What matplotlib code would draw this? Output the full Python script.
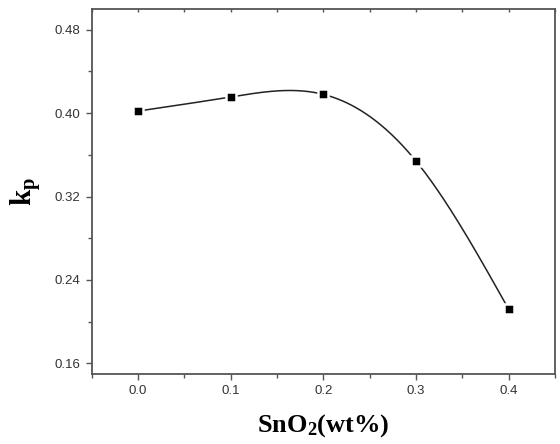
import numpy as np
import matplotlib
matplotlib.use("Agg")
import matplotlib.pyplot as plt

plt.rcParams["mathtext.fontset"] = "custom"
plt.rcParams["mathtext.rm"] = "Liberation Serif:bold"
plt.rcParams["mathtext.it"] = "Liberation Serif:bold"
plt.rcParams["mathtext.bf"] = "Liberation Serif:bold"

sno2 = [0.0, 0.1, 0.2, 0.3, 0.4]
kp = [0.402, 0.4155, 0.418, 0.354, 0.212]
xticks = [0.0, 0.1, 0.2, 0.3, 0.4]
yticks = [0.16, 0.24, 0.32, 0.40, 0.48]


def natural_spline(x, y, xs):
    x = np.asarray(x, float); y = np.asarray(y, float)
    n = len(x)
    h = np.diff(x)
    A = np.zeros((n, n)); b = np.zeros(n)
    A[0, 0] = 1; A[-1, -1] = 1
    for i in range(1, n - 1):
        A[i, i - 1] = h[i - 1]
        A[i, i] = 2 * (h[i - 1] + h[i])
        A[i, i + 1] = h[i]
        b[i] = 3 * ((y[i + 1] - y[i]) / h[i] - (y[i] - y[i - 1]) / h[i - 1])
    c = np.linalg.solve(A, b)
    out = np.empty_like(xs)
    for k, xv in enumerate(xs):
        i = min(max(np.searchsorted(x, xv) - 1, 0), n - 2)
        bi = (y[i + 1] - y[i]) / h[i] - h[i] * (2 * c[i] + c[i + 1]) / 3
        di = (c[i + 1] - c[i]) / (3 * h[i])
        t = xv - x[i]
        out[k] = y[i] + bi * t + c[i] * t ** 2 + di * t ** 3
    return out


fig = plt.figure(figsize=(5.6, 4.44), dpi=100)
ax = fig.add_axes([0.164, 0.158, 0.827, 0.822])

xs = np.linspace(sno2[0], sno2[-1], 400)
ax.plot(xs, natural_spline(sno2, kp, xs), color="#222222", lw=1.1, zorder=2)
ax.plot(sno2, kp, ls="none", marker="s", ms=7, mfc="black", mec="white",
        mew=1.8, zorder=3)

ax.set_xlim(-0.05, 0.45)
ax.set_ylim(0.15, 0.50)
ax.set_xticks(xticks)
ax.set_xticklabels([f"{v:.1f}" for v in xticks])
ax.set_yticks(yticks)
ax.set_yticklabels([f"{v:.2f}" for v in yticks])
ax.set_xticks(np.arange(-0.05, 0.46, 0.05), minor=True)
ax.set_yticks(np.arange(0.20, 0.50, 0.08), minor=True)

for s in ax.spines.values():
    s.set_color("#555555")
    s.set_linewidth(1.3)

ax.tick_params(which="both", direction="out", color="#555555", width=1.0,
               labelsize=9.5, labelcolor="#333333")
ax.tick_params(which="major", length=4, pad=4)
ax.tick_params(which="minor", length=3)
for lab in ax.get_xticklabels() + ax.get_yticklabels():
    lab.set_fontfamily("Liberation Sans")

top = ax.secondary_xaxis("top")
top.set_xticks(xticks)
top.set_xticks(np.arange(-0.05, 0.46, 0.05), minor=True)
top.tick_params(which="both", direction="in", length=2, width=1.0,
                color="#555555", labeltop=False)
top.spines["top"].set_visible(False)

ax.set_xlabel(r"SnO$_2$(wt%)", fontsize=19, fontweight="bold",
              family="Liberation Serif", labelpad=11)
ax.set_ylabel(r"k$_\mathregular{p}$", fontsize=21, fontweight="bold",
              family="Liberation Serif", labelpad=8)

fig.savefig("out.png", dpi=100)
